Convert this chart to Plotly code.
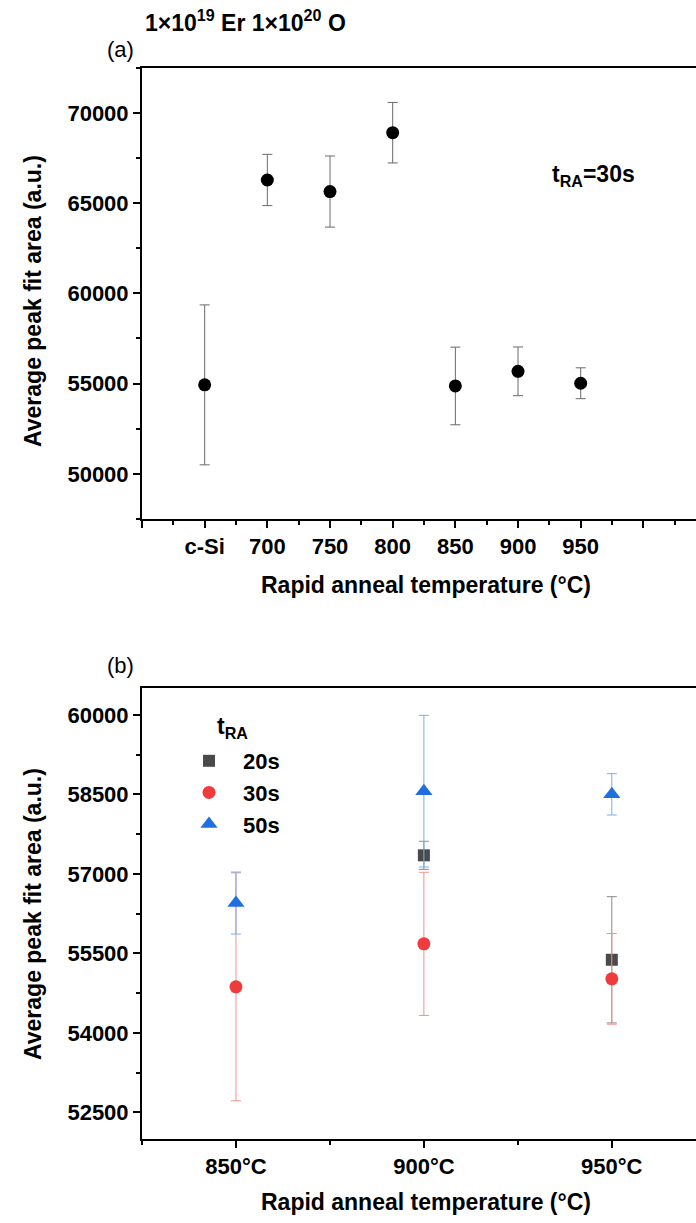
import plotly.graph_objects as go

# ---- Panel (a): t_RA = 30 s, all anneal temperatures ----
samples_a = ["c-Si", "700", "750", "800", "850", "900", "950"]
slot_a = [650, 700, 750, 800, 850, 900, 950]          # x-axis slot of each sample
area_a = [54930, 66280, 65640, 68900, 54870, 55680, 55020]
err_a = [4430, 1420, 1970, 1675, 2150, 1350, 855]

# x-axis tick labels for panel (a)
tick_vals_a = [600, 650, 700, 750, 800, 850, 900, 950, 1000]
tick_text_a = ["", "c-Si", "700", "750", "800", "850", "900", "950", ""]
y_ticks_a = [50000, 55000, 60000, 65000, 70000]

# ---- Panel (b): different anneal times ----
temps_b = [850, 900, 950]
tick_text_b = ["850°C", "900°C", "950°C"]
y_ticks_b = [52500, 54000, 55500, 57000, 58500, 60000]

temps_20s = [900, 950]
area_20s = [57350, 55380]
err_20s = [265, 1190]

temps_30s = [850, 900, 950]
area_30s = [54870, 55680, 55020]
err_30s = [2150, 1350, 855]

temps_50s = [850, 900, 950]
area_50s = [56450, 58560, 58500]
err_50s = [585, 1430, 390]

W, H = 696, 1223
FONT = "Liberation Sans, Arial, sans-serif"


def py(pix):
    """convert a pixel row into paper y coordinate"""
    return 1 - pix / H


fig = go.Figure()

fig.add_trace(go.Scatter(
    x=slot_a, y=area_a, mode="markers", showlegend=False,
    marker=dict(symbol="circle", size=13, color="black"),
    error_y=dict(type="data", array=err_a, visible=True,
                 color="#6a6a6a", thickness=1, width=5),
    xaxis="x", yaxis="y",
))

series_b = [
    ("20s", temps_20s, area_20s, err_20s, "square", 12, "#4a4a4a", "#8a8a8a"),
    ("30s", temps_30s, area_30s, err_30s, "circle", 13, "#ef3b3b", "#f29090"),
    ("50s", temps_50s, area_50s, err_50s, "triangle-up", 15, "#1f6fde", "#7aaef0"),
]
for name, xs, ys, es, sym, size, col, ecol in series_b:
    fig.add_trace(go.Scatter(
        x=xs, y=ys, mode="markers", name=name,
        marker=dict(symbol=sym, size=size, color=col),
        error_y=dict(type="data", array=es, visible=True,
                     color=ecol, thickness=1, width=5),
        xaxis="x2", yaxis="y2",
    ))

axis_common = dict(
    showgrid=False, zeroline=False, showline=True, linecolor="black",
    linewidth=2, ticks="outside", ticklen=7, tickwidth=1.5, tickcolor="black",
    tickfont=dict(family=FONT, size=22, color="black", weight="bold"),
)
title_font = dict(family=FONT, size=23, color="black", weight="bold")

x_dom = [142 / W, 1.0]

fig.update_layout(
    width=W, height=H,
    margin=dict(l=0, r=0, t=0, b=0),
    paper_bgcolor="white", plot_bgcolor="white",
    font=dict(family=FONT, color="black"),
    xaxis=dict(
        axis_common, domain=x_dom, anchor="y", range=[600, 1042],
        mirror=True, tickmode="array", tickvals=tick_vals_a, ticktext=tick_text_a,
        minor=dict(ticks="outside", ticklen=4, tickwidth=1.5, tickcolor="black",
                   tick0=600, dtick=25),
    ),
    yaxis=dict(
        axis_common, domain=[py(519), py(67.7)], anchor="x", range=[47500, 72500],
        tickmode="array", tickvals=y_ticks_a, ticktext=[str(v) for v in y_ticks_a],
        minor=dict(ticks="outside", ticklen=4, tickwidth=1.5, tickcolor="black",
                   tick0=47500, dtick=2500),
    ),
    xaxis2=dict(
        axis_common, domain=x_dom, anchor="y2", range=[825, 972.4],
        mirror=True, tickmode="array", tickvals=temps_b, ticktext=tick_text_b,
        minor=dict(ticks="outside", ticklen=4, tickwidth=1.5, tickcolor="black",
                   tick0=825, dtick=25),
    ),
    yaxis2=dict(
        axis_common, domain=[py(1139), py(688.3)], anchor="x2", range=[52000, 60500],
        tickmode="array", tickvals=y_ticks_b, ticktext=[str(v) for v in y_ticks_b],
        minor=dict(ticks="outside", ticklen=4, tickwidth=1.5, tickcolor="black",
                   tick0=52500, dtick=750),
    ),
    legend=dict(
        x=175 / W, y=py(740), xanchor="left", yanchor="top",
        bgcolor="rgba(0,0,0,0)", borderwidth=0,
        font=dict(family=FONT, size=22, color="black", weight="bold"),
        itemwidth=58, tracegroupgap=0,
    ),
    annotations=[
        dict(text="1×10<sup>19</sup> Er 1×10<sup>20</sup> O", x=143 / W, y=py(21),
             xref="paper", yref="paper", xanchor="left", yanchor="middle",
             showarrow=False, font=dict(family=FONT, size=23, color="black", weight="bold")),
        dict(text="(a)", x=105 / W, y=py(50), xref="paper", yref="paper",
             xanchor="left", yanchor="middle", showarrow=False,
             font=dict(family=FONT, size=22, color="black")),
        dict(text="(b)", x=105 / W, y=py(665), xref="paper", yref="paper",
             xanchor="left", yanchor="middle", showarrow=False,
             font=dict(family=FONT, size=22, color="black")),
        dict(text="t<sub>RA</sub>=30s", x=593 / W, y=py(176), xref="paper", yref="paper",
             xanchor="center", yanchor="middle", showarrow=False,
             font=dict(family=FONT, size=23, color="black", weight="bold")),
        dict(text="t<sub>RA</sub>", x=215 / W, y=py(727), xref="paper", yref="paper",
             xanchor="left", yanchor="middle", showarrow=False,
             font=dict(family=FONT, size=23, color="black", weight="bold")),
        dict(text="Rapid anneal temperature (°C)", x=426 / W, y=py(585),
             xref="paper", yref="paper", xanchor="center", yanchor="middle",
             showarrow=False, font=title_font),
        dict(text="Rapid anneal temperature (°C)", x=426 / W, y=py(1202),
             xref="paper", yref="paper", xanchor="center", yanchor="middle",
             showarrow=False, font=title_font),
        dict(text="Average peak fit area (a.u.)", x=33 / W, y=py(301), textangle=-90,
             xref="paper", yref="paper", xanchor="center", yanchor="middle",
             showarrow=False, font=title_font),
        dict(text="Average peak fit area (a.u.)", x=33 / W, y=py(914), textangle=-90,
             xref="paper", yref="paper", xanchor="center", yanchor="middle",
             showarrow=False, font=title_font),
    ],
)

fig.write_html("out.html")
